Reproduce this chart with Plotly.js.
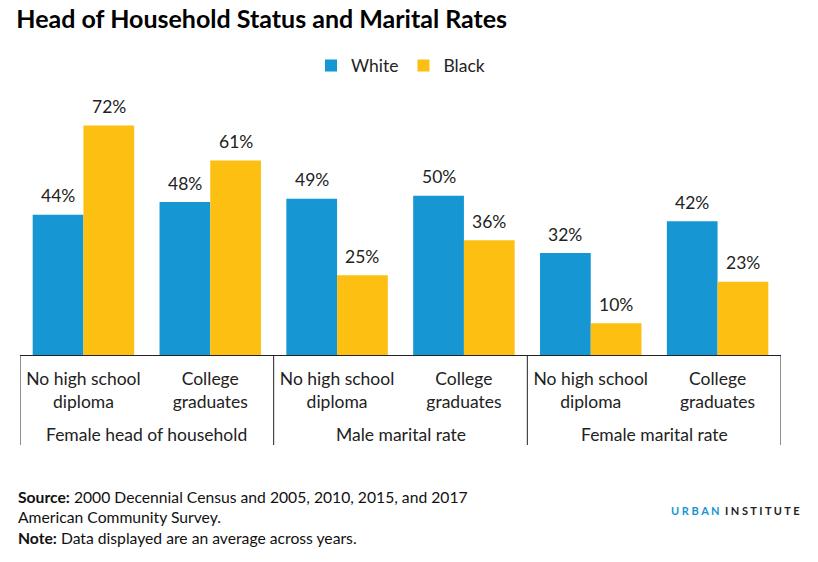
<!DOCTYPE html>
<html>
<head>
<meta charset="utf-8">
<script src="https://cdn.plot.ly/plotly-3.0.1.min.js"></script>
<style>
html,body{margin:0;padding:0;background:#fff;}
#chart{width:818px;height:562px;}
</style>
</head>
<body>
<div id="chart"></div>
<script>
var categories = ["No high school<br>diploma", "College<br>graduates", "No high school<br>diploma", "College<br>graduates", "No high school<br>diploma", "College<br>graduates"];
var groups = ["Female head of household", "Male marital rate", "Female marital rate"];
var whiteValues = [44, 48, 49, 50, 32, 42];
var blackValues = [72, 61, 25, 36, 10, 23];
var seriesNames = ["White", "Black"];
var seriesColors = ["#1696d2", "#fdbf11"];

var idx = categories.map(function(_, i){ return i; });
var font = "Lato, 'Open Sans', sans-serif";
var fs = 17.5;

var traces = [
  {type:"bar", name:seriesNames[0], x:idx, y:whiteValues, marker:{color:seriesColors[0]}, hoverinfo:"y"},
  {type:"bar", name:seriesNames[1], x:idx, y:blackValues, marker:{color:seriesColors[1]}, hoverinfo:"y"}
];

var shapes = [-0.5, 1.5, 3.5, 5.5].map(function(xv){
  return {type:"line", xref:"x", yref:"paper", x0:xv, x1:xv, y0:0, y1:-0.353, line:{color:"#222", width:1}};
});

var annotations = groups.map(function(g, i){
  return {text:g, xref:"x", yref:"paper", x:2*i+0.5, y:-0.31, yanchor:"middle", showarrow:false,
          font:{family:font, size:fs, color:"#222"}};
});
// value labels above each bar (half a bar width left/right of the category centre)
[whiteValues, blackValues].forEach(function(vals, s){
  vals.forEach(function(v, i){
    annotations.push({text:v+"%", xref:"x", yref:"y", x:i, y:v, xshift:(s===0?-25.4:25.4), yshift:19,
      yanchor:"middle", showarrow:false, font:{family:font, size:fs, color:"#222"}});
  });
});
annotations.push({
  text:"<b>Source:</b> 2000 Decennial Census and 2005, 2010, 2015, and 2017<br>American Community Survey.<br><b>Note:</b> Data displayed are an average across years.",
  xref:"paper", yref:"paper", x:-0.005, y:-0.514, xanchor:"left", yanchor:"top", align:"left", showarrow:false,
  font:{family:font, size:15.7, color:"#111"}
});
annotations.push({
  text:"<b><span style='color:#1696d2'>U R B A N</span>  I N S T I T U T E</b>",
  xref:"paper", yref:"paper", x:1.027, y:-0.608, xanchor:"right", yanchor:"middle", showarrow:false,
  font:{family:font, size:11, color:"#222"}
});

var layout = {
  width:818, height:562,
  margin:{l:20, r:37, t:100, b:207},
  paper_bgcolor:"#fff", plot_bgcolor:"#fff",
  font:{family:font, size:fs, color:"#222"},
  title:{text:"<b>Head of Household Status and Marital Rates</b>", x:0.02, xanchor:"left", y:0.965, yanchor:"middle",
         font:{family:font, size:25, color:"#000"}},
  barmode:"group", bargap:0.2, bargroupgap:0,
  showlegend:true,
  legend:{orientation:"h", x:0.5, xanchor:"center", y:1.135, yanchor:"middle", font:{family:font, size:fs, color:"#222"}, itemwidth:30, traceorder:"normal"},
  xaxis:{type:"linear", range:[-0.5, 5.5], tickmode:"array", tickvals:idx, ticktext:categories, showgrid:false, zeroline:false,
         showline:true, linecolor:"#222", linewidth:1, ticks:"", ticklabelstandoff:8, tickfont:{family:font, size:fs, color:"#222"}, fixedrange:true},
  yaxis:{range:[0, 80], visible:false, fixedrange:true},
  shapes:shapes,
  annotations:annotations
};

Plotly.newPlot("chart", traces, layout, {displayModeBar:false, staticPlot:true});
</script>
</body>
</html>
